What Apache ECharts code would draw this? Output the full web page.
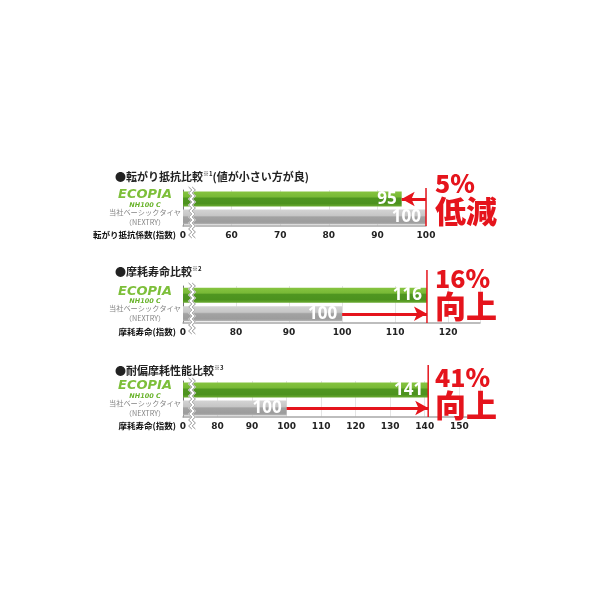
<!DOCTYPE html>
<html><head><meta charset="utf-8">
<script src="https://cdn.jsdelivr.net/npm/echarts@6/dist/echarts.min.js"></script>
<style>html,body{margin:0;padding:0;background:#fff}#c{width:600px;height:600px}</style>
</head><body><div id="c"></div>
<script>
// ---- data ----
const categories = ['ECOPIA NH100 C', '当社ベーシックタイヤ (NEXTRY)'];
const rollingResistance = [95, 100];
const wearLife = [116, 100];
const unevenWear = [141, 100];
const panelTitles = ['転がり抵抗比較', '摩耗寿命比較', '耐偏摩耗性能比較'];
const titleNotes = ['※1', '※2', '※3'];
const titleSuffix = ['(値が小さい方が良)', '', ''];
const axisNames = ['転がり抵抗係数(指数)', '摩耗寿命(指数)', '摩耗寿命(指数)'];
const axisMins = [50, 70, 70];
const axisMaxs = [100, 126, 156];
const percentTexts = ['5%', '16%', '41%'];
const effectTexts = ['低減', '向上', '向上'];
const panelValues = [rollingResistance, wearLife, unevenWear];

const FONT = '"Noto Sans CJK JP", "Noto Sans", sans-serif';
const RED = '#e5141c';
const greenGrad = new echarts.graphic.LinearGradient(0,0,0,1,[
  {offset:0,color:'#86c440'},{offset:0.35,color:'#78b936'},{offset:0.45,color:'#4f9620'},
  {offset:0.8,color:'#4c921e'},{offset:1,color:'#6aab30'}]);
const grayGrad = new echarts.graphic.LinearGradient(0,0,0,1,[
  {offset:0,color:'#d4d4d4'},{offset:0.4,color:'#c6c6c6'},{offset:0.5,color:'#a2a2a2'},
  {offset:0.85,color:'#9c9c9c'},{offset:1,color:'#b8b8b8'}]);

const grids = [
  {left:183, top:190, width:243, height:36},
  {left:183, top:286, width:297, height:37},
  {left:183, top:381, width:297, height:36}
];
const titleTops = [166, 261, 360];

const option = {
  backgroundColor:'#fff',
  animation:false,
  grid: grids,
  title: [],
  xAxis: [],
  yAxis: [],
  series: []
};

panelValues.forEach((vals, i) => {
  option.title.push({
    text: '{a|●' + panelTitles[i] + '}{s|' + titleNotes[i] + '}{a|' + titleSuffix[i] + '}',
    left: 110, top: titleTops[i],
    textStyle: {rich: {
      a: {fontFamily: FONT, fontSize: 11, fontWeight: 'bold', color: '#222'},
      s: {fontFamily: FONT, fontSize: 6, fontWeight: 'bold', color: '#222', verticalAlign: 'top', padding:[0,0,6,0]}
    }}
  });
  option.title.push({
    text: '{p|' + percentTexts[i] + '}\n{e|' + effectTexts[i] + '}',
    left: 430, top: titleTops[i],
    textStyle: {rich: {
      p: {fontFamily: FONT, fontSize: 25, fontWeight: 900, color: RED, lineHeight: 25},
      e: {fontFamily: FONT, fontSize: 31, fontWeight: 900, color: RED, lineHeight: 31}
    }}
  });
  option.xAxis.push({
    gridIndex: i, type: 'value', min: axisMins[i], max: axisMaxs[i], interval: 10,
    name: axisNames[i], nameLocation: 'start', nameGap: 7,
    nameTextStyle: {fontFamily: FONT, fontSize: 8.5, fontWeight: 'bold', color: '#111', verticalAlign: 'top', padding: [5,0,0,0]},
    axisLine: {show: true, lineStyle: {color: '#a8a8a8', width: 1.5}},
    axisTick: {show: false},
    splitLine: {show: true, lineStyle: {color: '#e4e4e4', width: 1}},
    axisLabel: {
      fontFamily: '"DejaVu Sans", sans-serif', fontSize: 9, fontWeight: 'bold', color: '#222', margin: 5,
      showMaxLabel: i === 0 ? true : false,
      formatter: (v) => v === axisMins[i] ? '0' : String(v)
    }
  });
  option.yAxis.push({
    gridIndex: i, type: 'category', data: categories, inverse: true,
    axisLine: {show: true, lineStyle: {color: '#777', width: 1}},
    axisTick: {show: false},
    axisLabel: {
      interval: 0, hideOverlap: false,
      align: 'center', margin: 38,
      formatter: (v, idx) => idx === 0 ? '{eco|ECOPIA}\n{nh|NH100 C}' : '{g|当社ベーシックタイヤ}\n{g|（NEXTRY）}',
      rich: {
        eco: {fontFamily: '"DejaVu Sans", sans-serif', fontStyle: 'italic', fontWeight: 'bold', fontSize: 13, color: '#7dbf3a', lineHeight: 12, letterSpacing: 1},
        nh: {fontFamily: '"DejaVu Sans", sans-serif', fontStyle: 'italic', fontWeight: 'bold', fontSize: 6.5, color: '#6ab42d', lineHeight: 8},
        g: {fontFamily: FONT, fontSize: 7.2, color: '#858585', lineHeight: 10}
      }
    }
  });
  const arrowData = i === 0
    ? [[{coord: [vals[1], categories[0]], symbol: 'none'}, {coord: [vals[0], categories[0]], symbol: 'arrow'}]]
    : [[{coord: [vals[1], categories[1]], symbol: 'none'}, {coord: [vals[0], categories[1]], symbol: 'arrow'}]];
  option.series.push({
    type: 'bar', xAxisIndex: i, yAxisIndex: i, barWidth: 15,
    data: vals.map((v, k) => ({value: v, itemStyle: {color: k === 0 ? greenGrad : grayGrad}})),
    label: {show: true, position: 'insideRight', distance: 5, color: '#fff',
      fontFamily: '"Open Sans", "DejaVu Sans", sans-serif', fontWeight: 'bold', fontSize: 17},
    markLine: {
      silent: true, symbolSize: [11, 13], animation: false,
      label: {show: false},
      lineStyle: {color: RED, width: 3, type: 'solid'},
      data: arrowData
    },
    z: 2
  });
  // reference red vertical line at best value
  option.series.push({
    type: 'custom', xAxisIndex: i, yAxisIndex: i, clip: false, z: 5,
    data: [[Math.max(vals[0], vals[1])]],
    renderItem: (params, api) => {
      const cs = params.coordSys;
      const x = api.coord([api.value(0), categories[0]])[0];
      const top = i === 0 ? cs.y - 2 : cs.y - 16;
      return {type: 'line', shape: {x1: x, y1: top, x2: x, y2: cs.y + cs.height}, style: {stroke: RED, lineWidth: 1.5}};
    }
  });
  // axis break zigzag
  option.series.push({
    type: 'custom', xAxisIndex: i, yAxisIndex: i, clip: false, z: 10,
    data: [[axisMins[i]]],
    renderItem: (params, api) => {
      const cs = params.coordSys;
      const x0 = api.coord([api.value(0), categories[0]])[0] + 9;
      const pts = [];
      const y0 = cs.y - 3, y1 = cs.y + cs.height + 12;
      let k = 0;
      for (let y = y0; y <= y1; y += 3) { pts.push([x0 + (k % 2 ? 1.6 : -1.6), y]); k++; }
      const left = pts.map(p => [p[0] - 1.8, p[1]]);
      const right = pts.map(p => [p[0] + 1.8, p[1]]);
      return {type: 'group', children: [
        {type: 'polyline', shape: {points: pts}, style: {stroke: '#fff', lineWidth: 3.6, fill: null}},
        {type: 'polyline', shape: {points: left}, style: {stroke: '#666', lineWidth: 0.7, fill: null}},
        {type: 'polyline', shape: {points: right}, style: {stroke: '#666', lineWidth: 0.7, fill: null}}
      ]};
    }
  });
});

const chart = echarts.init(document.getElementById('c'));
chart.setOption(option);
</script></body></html>
